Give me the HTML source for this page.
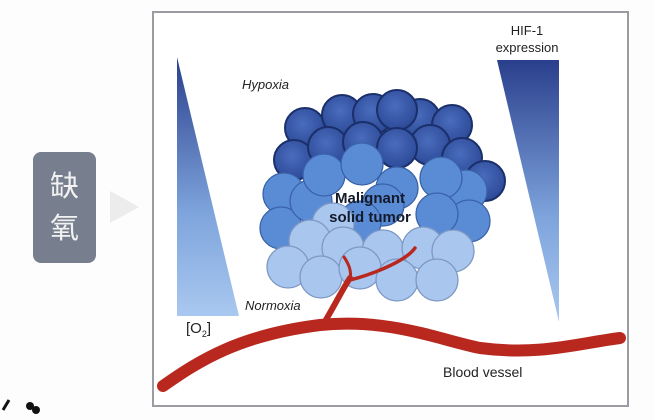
<!DOCTYPE html>
<html><head><meta charset="utf-8"><style>
html,body{margin:0;padding:0;background:#fdfdfd;}
body{width:654px;height:420px;position:relative;overflow:hidden;font-family:"Liberation Sans",Arial,sans-serif;}
.box{position:absolute;left:33px;top:152px;width:63px;height:111px;background:#777f8f;border-radius:8px;color:#f2f2f2;font-family:"Liberation Sans","Noto Sans CJK SC",sans-serif;font-size:29px;line-height:42px;text-align:center;padding-top:14px;box-sizing:border-box;}
</style></head><body>
<div class="box">缺<br>氧</div>
<svg width="654" height="420" style="position:absolute;left:0;top:0">
<defs>
<linearGradient id="g1" x1="0" y1="0" x2="0" y2="1"><stop offset="0" stop-color="#2a3f8c"/><stop offset="0.6" stop-color="#7ea4dc"/><stop offset="1" stop-color="#a9c8f0"/></linearGradient>
<radialGradient id="dk" cx="0.45" cy="0.4" r="0.6"><stop offset="0" stop-color="#4a6cbc"/><stop offset="1" stop-color="#2c4a98"/></radialGradient>
</defs>
<polygon points="110,191 139,207 110,223" fill="#ececec"/>
<rect x="153" y="12" width="475" height="394" fill="#fff" stroke="#9a9ca2" stroke-width="2"/>
<polygon points="177,57 239,316 177,316" fill="url(#g1)"/>
<polygon points="497,60 559,60 559,322" fill="url(#g1)"/>
<g stroke-width="1.3">
<g fill="url(#dk)" stroke="#1b2f6a" stroke-width="2">
<circle cx="305" cy="128" r="20"/><circle cx="342" cy="115" r="20"/><circle cx="373" cy="114" r="20"/><circle cx="420" cy="119" r="20"/><circle cx="452" cy="125" r="20"/><circle cx="397" cy="110" r="20"/>
<circle cx="294" cy="160" r="20"/><circle cx="328" cy="147" r="20"/><circle cx="363" cy="142" r="20"/><circle cx="430" cy="145" r="20"/><circle cx="462" cy="158" r="20"/><circle cx="485" cy="181" r="20"/><circle cx="397" cy="148" r="20"/>
</g>
<g fill="#5a8cd6" stroke="#3a62a8">
<circle cx="284" cy="194" r="21"/><circle cx="281" cy="228" r="21"/><circle cx="311" cy="201" r="21"/><circle cx="324" cy="175" r="21"/><circle cx="362" cy="164" r="21"/><circle cx="397" cy="188" r="21"/><circle cx="383" cy="205" r="21"/><circle cx="466" cy="191" r="21"/><circle cx="441" cy="178" r="21"/><circle cx="469" cy="221" r="21"/><circle cx="437" cy="214" r="21"/><circle cx="360" cy="222" r="21"/>
</g>
<g fill="#a8c6ee" stroke="#7f98c4">
<circle cx="333" cy="224" r="21"/><circle cx="310" cy="241" r="21"/><circle cx="343" cy="248" r="21"/><circle cx="383" cy="251" r="21"/><circle cx="423" cy="248" r="21"/><circle cx="453" cy="251" r="21"/><circle cx="288" cy="267" r="21"/><circle cx="321" cy="277" r="21"/><circle cx="360" cy="268" r="21"/><circle cx="397" cy="280" r="21"/><circle cx="437" cy="280" r="21"/>
</g>
</g>
<g fill="none" stroke="#b8281e" stroke-linecap="round">
<path d="M163,386 C200,360 240,335 320,325 C390,318 440,340 480,348 C540,356 580,343 620,338" stroke-width="12"/>
<path d="M324,323 C335,305 342,290 350,278" stroke-width="6"/>
<path d="M350,280 C352,270 348,263 344,257" stroke-width="3"/>
<path d="M350,280 C370,275 405,262 415,248" stroke-width="3.5"/>
</g>
<g font-family="Liberation Sans,Arial,sans-serif" fill="#222">
<text x="242" y="89" font-size="13" font-style="italic">Hypoxia</text>
<text x="245" y="310" font-size="13" font-style="italic">Normoxia</text>
<text x="527" y="35" font-size="13" text-anchor="middle">HIF-1</text>
<text x="527" y="52" font-size="13" text-anchor="middle">expression</text>
<text x="186" y="333" font-size="15">[O<tspan font-size="9" dy="4">2</tspan><tspan dy="-4">]</tspan></text>
<text x="443" y="377" font-size="14">Blood vessel</text>
<text x="370" y="203" font-size="15" font-weight="bold" text-anchor="middle" fill="#141a2a">Malignant</text>
<text x="370" y="222" font-size="15" font-weight="bold" text-anchor="middle" fill="#141a2a">solid tumor</text>
</g>
<path d="M3,410 L9,400" stroke="#111" stroke-width="3"/>
<circle cx="30" cy="406" r="4" fill="#111"/><circle cx="36" cy="410" r="4" fill="#111"/>
</svg>
</body></html>
